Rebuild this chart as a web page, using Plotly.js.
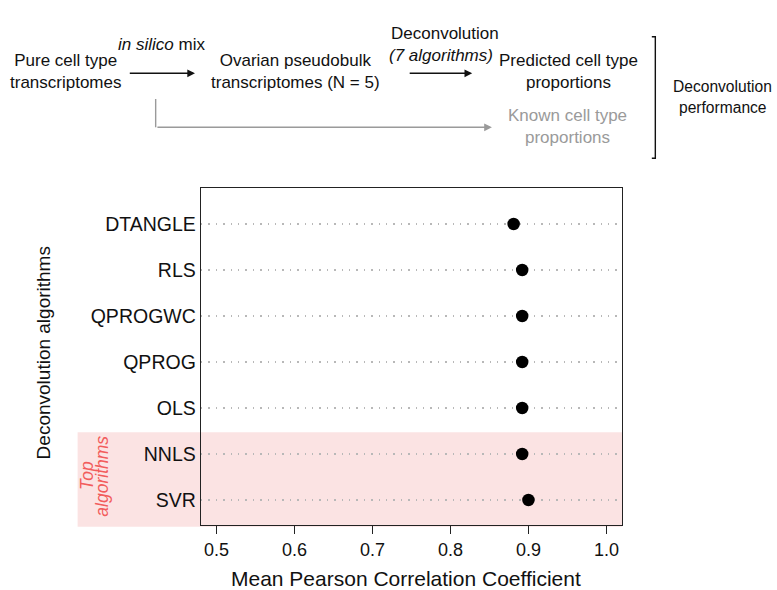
<!DOCTYPE html>
<html>
<head>
<meta charset="utf-8">
<script src="https://cdn.plot.ly/plotly-3.0.1.min.js"></script>
<style>
  html, body { margin: 0; padding: 0; background: #fff; }
  #chart { width: 777px; height: 590px; }
</style>
</head>
<body>
<div id="chart"></div>
<script>
// ---- data ----
const algorithms = ['DTANGLE', 'RLS', 'QPROGWC', 'QPROG', 'OLS', 'NNLS', 'SVR'];
const meanPearson = [0.881, 0.892, 0.892, 0.892, 0.892, 0.892, 0.900];
const xTickVals = [0.5, 0.6, 0.7, 0.8, 0.9, 1.0];
const topAlgorithms = ['NNLS', 'SVR'];

// ---- layout geometry (pixels) ----
const W = 777, H = 590;
const L = 201, R = 621.7, T = 188, B = 525;
const PW = R - L, PH = B - T;
const X = px => (px - L) / PW;
const Y = py => (B - py) / PH;

const FONT = 'Liberation Sans, Arial, Helvetica, sans-serif';
const black = '#111111';
const gray = '#9a9a9a';
const red = '#f25c5c';

const trace = {
  type: 'scatter',
  mode: 'markers',
  x: meanPearson,
  y: algorithms,
  marker: { color: '#000', size: 12.5 },
  hoverinfo: 'x+y',
  showlegend: false
};

function txt(text, px, py, opts) {
  return Object.assign({
    text: text, xref: 'paper', yref: 'paper', x: X(px), y: Y(py),
    xanchor: 'center', yanchor: 'middle', showarrow: false,
    font: { family: FONT, size: 17, color: black }
  }, opts || {});
}
function arrow(x0, y0, x1, y1, color) {
  return {
    text: '', xref: 'paper', yref: 'paper', x: X(x1), y: Y(y1),
    ax: x0 - x1, ay: y0 - y1, axref: 'pixel', ayref: 'pixel',
    showarrow: true, arrowhead: 2, arrowsize: 1.1, arrowwidth: 1.4,
    arrowcolor: color, standoff: 0, startstandoff: 0
  };
}

const annotations = [
  txt('Pure cell type<br>transcriptomes', 65.7, 71.5),
  txt('<i>in silico</i> mix', 161.7, 45),
  txt('Ovarian pseudobulk<br>transcriptomes (N = 5)', 295, 71.5),
  txt('Deconvolution', 445, 33),
  txt('<i>(7 algorithms)</i>', 441, 55),
  txt('Predicted cell type<br>proportions', 568, 71.5),
  txt('Known cell type<br>proportions', 567.7, 126, { font: { family: FONT, size: 17, color: gray } }),
  txt('Deconvolution', 722.5, 86.7, { font: { family: FONT, size: 15.6, color: black } }),
  txt('performance', 722.5, 107.7, { font: { family: FONT, size: 15.6, color: black } }),
  arrow(128.3, 73.3, 195, 73.3, black),
  arrow(408, 73.3, 472, 73.3, black),
  arrow(155.7, 127.3, 491.7, 127.3, gray),
  // axis titles
  txt('Mean Pearson Correlation Coefficient', 406, 578, { font: { family: FONT, size: 21, color: black } }),
  txt('Deconvolution algorithms', 44, 352.5, { textangle: -90, font: { family: FONT, size: 19, color: black } }),
  // highlight label
  txt('<i>Top</i>', 87, 475, { textangle: -90, font: { family: FONT, size: 17.5, color: red } }),
  txt('<i>algorithms</i>', 101.7, 476, { textangle: -90, font: { family: FONT, size: 17.5, color: red } })
];

const shapes = [
  // highlight band behind top algorithms
  { type: 'rect', xref: 'paper', yref: 'paper', x0: X(77.7), x1: 1, y0: Y(526.7), y1: Y(432.3),
    fillcolor: '#fbe3e3', line: { width: 0 }, layer: 'below' },
  // gray connector
  { type: 'line', xref: 'paper', yref: 'paper', x0: X(155.7), x1: X(155.7), y0: Y(99), y1: Y(127.3),
    line: { color: gray, width: 1.4 } },
  // bracket
  { type: 'path', xref: 'paper', yref: 'paper',
    path: 'M ' + X(651.5) + ' ' + Y(36.7) + ' L ' + X(655) + ' ' + Y(36.7) +
          ' L ' + X(655) + ' ' + Y(158.3) + ' L ' + X(651.5) + ' ' + Y(158.3),
    line: { color: black, width: 1.4 } }
];

const layout = {
  width: W, height: H,
  margin: { l: L, r: W - R, t: T, b: H - B, pad: 0 },
  paper_bgcolor: '#ffffff',
  plot_bgcolor: 'rgba(0,0,0,0)',
  font: { family: FONT, color: black },
  showlegend: false,
  xaxis: {
    range: [0.48, 1.02], tickvals: xTickVals, tickformat: '.1f',
    ticks: 'outside', ticklen: 8, tickwidth: 1, tickcolor: '#222',
    showline: true, mirror: true, linecolor: '#222', linewidth: 1.3,
    showgrid: false, zeroline: false,
    tickfont: { family: FONT, size: 18, color: black }
  },
  yaxis: {
    type: 'category', categoryorder: 'array', categoryarray: algorithms.slice().reverse(),
    range: [-0.543, 6.783],
    ticks: '', showline: true, mirror: true, linecolor: '#222', linewidth: 1.3,
    showgrid: true, gridcolor: '#b8b8b8', gridwidth: 1.4, griddash: '1.4px,6px',
    zeroline: false,
    tickfont: { family: FONT, size: 19.5, color: black }
  },
  annotations: annotations,
  shapes: shapes
};

Plotly.newPlot('chart', [trace], layout, { displayModeBar: false, staticPlot: true });
</script>
</body>
</html>
